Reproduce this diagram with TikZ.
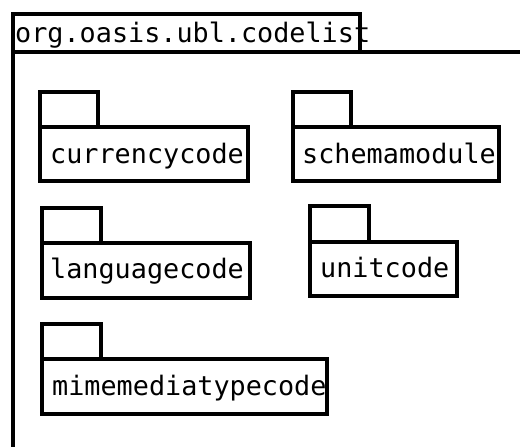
\documentclass[tikz,border=0pt]{standalone}
\usepackage{fontspec}
\newfontfamily\pkgmono{DejaVu Sans Mono}
\begin{document}
\begin{tikzpicture}[x=1pt,y=-1pt,
  pkgline/.style={draw=black,line width=3.4pt,fill=white},
  pkglabel/.style={anchor=base west,inner sep=0pt,font=\pkgmono\fontsize{26.8}{26.8}\selectfont}]
\useasboundingbox (0,0) rectangle (520,447);
% outer package
\draw[pkgline] (13,14) rectangle (360,52);
\draw[line width=3.4pt] (13,52) -- (13,450);
\draw[line width=3.4pt] (13,52) -- (523,52);
\node[pkglabel] (outer) at (15,42) {org.oasis.ubl.codelist};
% currencycode
\draw[pkgline] (40,92) rectangle (98,127);
\draw[pkgline] (40,127) rectangle (248,181);
\node[pkglabel] (cur) at (50,163) {currencycode};
% schemamodule
\draw[pkgline] (293,92) rectangle (351,127);
\draw[pkgline] (293,127) rectangle (499,181);
\node[pkglabel] (sch) at (302,163) {schemamodule};
% languagecode
\draw[pkgline] (42,208) rectangle (101,243);
\draw[pkgline] (42,243) rectangle (250,298);
\node[pkglabel] (lang) at (50,278) {languagecode};
% unitcode
\draw[pkgline] (310,206) rectangle (369,242);
\draw[pkgline] (310,242) rectangle (457,296);
\node[pkglabel] (unit) at (320,277) {unitcode};
% mimemediatypecode
\draw[pkgline] (42,324) rectangle (101,359);
\draw[pkgline] (42,359) rectangle (327,414);
\node[pkglabel] (mime) at (52,395) {mimemediatypecode};
\end{tikzpicture}
\end{document}
